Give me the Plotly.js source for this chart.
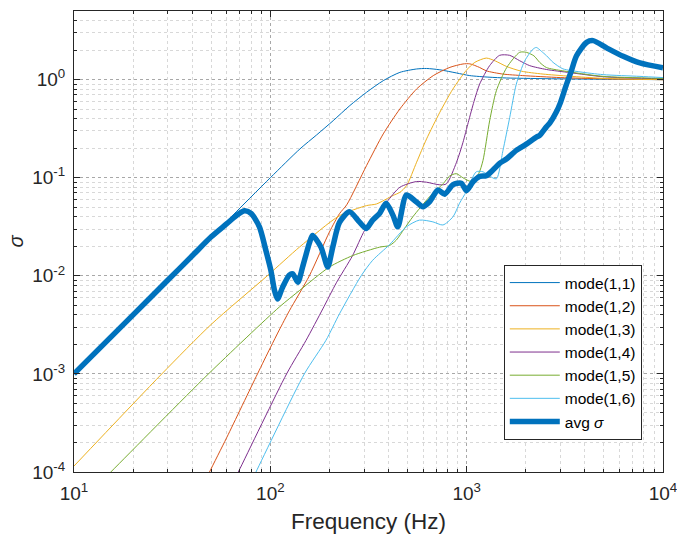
<!DOCTYPE html>
<html>
<head>
<meta charset="utf-8">
<script src="https://cdn.plot.ly/plotly-3.0.1.min.js"></script>
<style>html,body{margin:0;padding:0;background:#fff;}#chart{width:677px;height:537px;}</style>
</head>
<body>
<div id="chart"></div>
<script>
// Series names
const seriesNames = ['mode(1,1)', 'mode(1,2)', 'mode(1,3)', 'mode(1,4)', 'mode(1,5)', 'mode(1,6)', 'avg <i>σ</i>'];

// mode(1,1)
const m1F = [10, 30, 60, 100, 141.6, 172, 209, 254, 309, 376, 457, 556, 625, 730, 888, 1037, 1300, 1600, 2866, 5000, 10000];
const m1S = [1e-3, 9e-3, 0.036, 0.1, 0.197, 0.273, 0.382, 0.544, 0.743, 0.977, 1.187, 1.285, 1.3, 1.26, 1.17, 1.1, 1.06, 1.04, 1.02, 1.01, 1.0];

// mode(1,2)
const m2F = [45, 49, 60, 86, 100, 111, 125, 158, 200, 225, 245, 309, 376, 457, 556, 676, 822, 958, 1037, 1165, 1259, 1531, 1930, 3000, 5000, 10000];
const m2S = [7e-5, 1e-4, 2.25e-4, 1e-3, 1.85e-3, 2.8e-3, 4.4e-3, 0.01, 0.028, 0.043, 0.053, 0.133, 0.28, 0.503, 0.804, 1.1, 1.335, 1.445, 1.45, 1.33, 1.23, 1.14, 1.1, 1.05, 1.02, 1.0];

// mode(1,3)
const m3F = [10, 28, 50, 97, 141, 225, 309, 347, 422, 457, 494, 556, 625, 730, 850, 998, 1100, 1259, 1400, 1600, 1900, 2450, 5000, 10000];
const m3S = [1.15e-4, 1e-3, 3.2e-3, 0.0101, 0.0197, 0.041, 0.052, 0.054, 0.066, 0.071, 0.083, 0.144, 0.249, 0.465, 0.8, 1.25, 1.5, 1.66, 1.55, 1.36, 1.22, 1.14, 1.03, 1.0];

// mode(1,4)
const m4F = [60, 68.7, 121, 152, 185, 217, 262, 302, 331, 391, 457, 556, 625, 730, 789, 888, 958, 1019, 1090, 1164, 1309, 1472, 1656, 1862, 2094, 2547, 3354, 5000, 10000];
const m4S = [5.8e-5, 1e-4, 1e-3, 2.2e-3, 4.6e-3, 8.5e-3, 0.016, 0.029, 0.037, 0.0563, 0.08, 0.0915, 0.09, 0.0847, 0.0867, 0.144, 0.23, 0.367, 0.6, 0.9, 1.39, 1.77, 1.77, 1.56, 1.39, 1.27, 1.18, 1.07, 1.02];

// mode(1,5)
const m5F = [10, 15.4, 48.4, 111, 141, 200, 263, 360, 405, 438, 480, 532, 647, 759, 818, 885, 957, 1050, 1150, 1211, 1309, 1416, 1600, 1862, 2012, 2200, 2355, 2547, 3090, 4955, 10000];
const m5S = [4.2e-5, 1e-4, 1e-3, 4.8e-3, 7.1e-3, 0.0123, 0.0161, 0.0196, 0.0204, 0.0231, 0.03, 0.04, 0.064, 0.087, 0.104, 0.11, 0.1, 0.092, 0.11, 0.15, 0.38, 0.77, 1.33, 1.9, 1.9, 1.75, 1.5, 1.33, 1.23, 1.08, 1.03];

// mode(1,6)
const m6F = [80, 84.5, 149, 192, 225, 290, 332, 405, 493, 575, 673, 757, 852, 920, 995, 1119, 1211, 1300, 1416, 1531, 1656, 1790, 1977, 2179, 2264, 2400, 2547, 2755, 3090, 3776, 4955, 7630, 10000];
const m6S = [8e-5, 1e-4, 1e-3, 2.2e-3, 4.1e-3, 0.01, 0.0144, 0.0208, 0.0316, 0.037, 0.0355, 0.033, 0.04, 0.055, 0.072, 0.115, 0.115, 0.105, 0.0975, 0.19, 0.41, 0.9, 1.56, 2.05, 2.13, 1.95, 1.76, 1.5, 1.29, 1.2, 1.125, 1.08, 1.05];

// avg sigma
const avgF = [10, 20, 30, 40, 50, 60, 67, 74, 80, 88, 95, 100.6, 105, 108.8, 115.6, 125, 130, 138, 146, 158, 164, 181, 196, 208, 225, 253, 284, 308, 332, 360, 389, 421, 446, 493, 553, 598, 647, 714, 773, 852, 939, 998, 1077, 1164, 1259, 1361, 1472, 1600, 1790, 2012, 2264, 2355, 2547, 2649, 2866, 3000, 3214, 3400, 3627, 4083, 4406, 5160, 6270, 7630, 10000];
const avgS = [1e-3, 4e-3, 9e-3, 0.016, 0.025, 0.034, 0.041, 0.046, 0.043, 0.0316, 0.018, 0.0114, 0.0071, 0.0058, 0.0077, 0.0102, 0.0105, 0.0086, 0.0123, 0.0215, 0.0258, 0.0197, 0.0123, 0.0197, 0.035, 0.045, 0.0355, 0.0304, 0.037, 0.0433, 0.055, 0.0416, 0.0316, 0.0666, 0.0569, 0.0506, 0.0569, 0.075, 0.0680, 0.085, 0.088, 0.074, 0.091, 0.103, 0.105, 0.12, 0.14, 0.156, 0.19, 0.22, 0.26, 0.27, 0.33, 0.36, 0.47, 0.58, 0.88, 1.2, 1.75, 2.4, 2.5, 2.11, 1.73, 1.48, 1.32];

// Axis ticks
const xTickVals = [10, 100, 1000, 10000];
const xTickText = ['10<sup>1</sup>', '10<sup>2</sup>', '10<sup>3</sup>', '10<sup>4</sup>'];
const yTickVals = [1e-4, 1e-3, 1e-2, 1e-1, 1];
const yTickText = ['10<sup>-4</sup>', '10<sup>-3</sup>', '10<sup>-2</sup>', '10<sup>-1</sup>', '10<sup>0</sup>'];

const colors = ['#0072BD', '#D95319', '#EDB120', '#7E2F8E', '#77AC30', '#4DBEEE', '#0072BD'];
const xs = [m1F, m2F, m3F, m4F, m5F, m6F, avgF];
const ys = [m1S, m2S, m3S, m4S, m5S, m6S, avgS];

const traces = xs.map((x, i) => ({
  x: x, y: ys[i], type: 'scatter', mode: 'lines', name: seriesNames[i],
  line: {color: colors[i], width: i === 6 ? 5.5 : 1, shape: 'spline', smoothing: 0.7},
  hoverinfo: 'skip'
}));

const fontFam = 'Liberation Sans, Arial, Helvetica, sans-serif';
const axisCommon = {
  type: 'log', showline: true, linecolor: '#262626', linewidth: 1, mirror: 'ticks',
  ticks: 'inside', ticklen: 6, tickcolor: '#262626', tickwidth: 1,
  showgrid: true, gridcolor: '#a8a8a8', griddash: 'dot', gridwidth: 1,
  zeroline: false, tickmode: 'array', ticklabelstandoff: 4, ticklabeloverflow: 'allow',
  tickfont: {family: fontFam, size: 19, color: '#262626'},
  minor: {dtick: 'D1', ticks: 'inside', ticklen: 3, tickcolor: '#262626', showgrid: true, gridcolor: '#d8d8d8', griddash: 'dot', gridwidth: 1}
};

const layout = {
  width: 677, height: 537,
  margin: {l: 74, r: 14, t: 10.5, b: 65},
  paper_bgcolor: '#ffffff', plot_bgcolor: '#ffffff',
  showlegend: true,
  xaxis: Object.assign({}, axisCommon, {
    range: [1, 4], tickvals: xTickVals, ticktext: xTickText,
    title: {text: 'Frequency (Hz)', font: {family: fontFam, size: 22.5, color: '#262626'}, standoff: 10}
  }),
  yaxis: Object.assign({}, axisCommon, {
    range: [-4, 0.7], tickvals: yTickVals, ticktext: yTickText,
    title: {text: '<i>σ</i>', font: {family: fontFam, size: 20, color: '#262626'}, standoff: 3}
  }),
  legend: {
    x: 0.964, y: 0.449, xanchor: 'right', yanchor: 'top',
    bgcolor: '#ffffff', bordercolor: '#262626', borderwidth: 1,
    font: {family: fontFam, size: 15.5, color: '#000000'},
    tracegroupgap: 0, itemwidth: 50
  }
};

Plotly.newPlot('chart', traces, layout, {displayModeBar: false, staticPlot: true});
</script>
</body>
</html>
